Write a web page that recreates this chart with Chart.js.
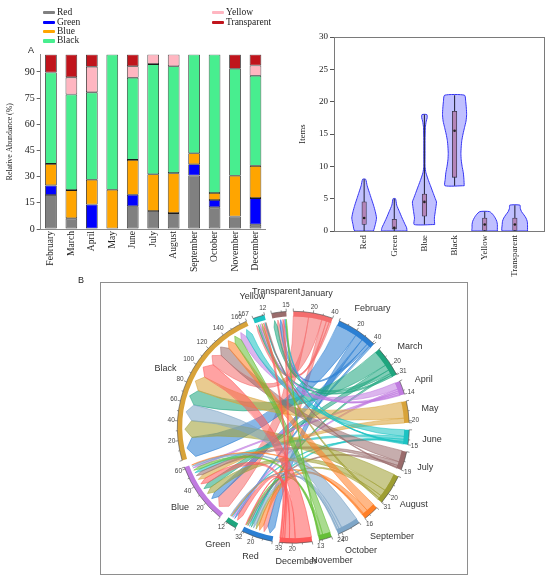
<!DOCTYPE html>
<html>
<head>
<meta charset="utf-8">
<title>Colours of items by month</title>
<script src="https://cdn.jsdelivr.net/npm/chart.js"></script>
<style>
html,body{margin:0;padding:0;background:#fff;}
body{width:550px;height:580px;position:relative;overflow:hidden;font-family:"Liberation Serif","Times New Roman",serif;color:#222;}
canvas{position:absolute;}
#bars{left:0;top:0;width:280px;height:280px;}
#violins{left:280px;top:0;width:270px;height:280px;}
#boxB{position:absolute;left:100px;top:282px;width:366px;height:291px;border:1px solid #8e8e8e;}
#chord{left:0;top:0;width:366px;height:291px;}
.lg{position:absolute;height:10px;line-height:10px;font-size:9.5px;white-space:nowrap;}
.lg i{display:inline-block;width:12px;height:3.5px;border-radius:1px;margin-right:2px;vertical-align:middle;}
.panel{position:absolute;font-family:"Liberation Sans",Arial,sans-serif;font-size:9px;line-height:10px;}
</style>
</head>
<body>
<canvas id="bars" width="280" height="280"></canvas>
<canvas id="violins" width="270" height="280"></canvas>
<div class="panel" style="left:28px;top:45px;">A</div>
<div class="panel" style="left:78px;top:275px;">B</div>
<div id="boxB"><canvas id="chord" width="366" height="291"></canvas></div>
<script>
// ---------- Panel A : relative abundance per month (%) ----------
const months = ['February', 'March', 'April', 'May', 'June', 'July', 'August', 'September', 'October', 'November', 'December'];
const redPct         = [19.5, 6.1, 0,    0,    13.0, 10.3, 9.1,  30.7, 12.4, 7.2,  2.5];
const greenPct       = [5.5,  0,   14.0, 0,    6.6,  0,    0,    6.4,  4.2,  0,    15.2];
const bluePct        = [12.3, 16.2, 14.2, 22.5, 20.0, 21.1, 22.9, 6.3, 4.0,  23.3, 18.5];
const blackPct       = [52.4, 54.8, 50.1, 77.5, 47.1, 63.1, 61.3, 56.6, 79.4, 61.3, 51.6];
const yellowPct      = [0,    9.8, 14.7, 0,    6.6,  5.5,  6.7,  0,    0,    0,    5.9];
const transparentPct = [10.3, 13.1, 7.0, 0,    6.7,  0,    0,    0,    0,    8.2,  6.3];
const pctTicks = [0, 15, 30, 45, 60, 75, 90];

// ---------- violin plot : items per month for each colour ----------
const colourNames = ['Red', 'Green', 'Blue', 'Black', 'Yellow', 'Transparent'];
const itemTicks = [0, 5, 10, 15, 20, 25, 30];
// outline of each violin: item levels and half width of the density there
const violinLevels = [
  [0, 1, 2, 3, 4, 5, 6, 7, 8],
  [0, 0.5, 1, 2, 3, 4, 5],
  [1, 2, 3, 4, 4.5, 5, 6, 7, 8, 9, 10, 12, 14, 16, 17, 17.5, 18],
  [7, 8, 9, 10, 11, 12, 13, 14, 15, 16, 17, 18, 19, 20, 21],
  [0, 0.5, 1, 1.5, 2, 2.5, 3],
  [0, 1, 1.5, 2, 2.5, 3, 3.5, 4]
];
const violinWidths = [
  [0.31, 0.37, 0.41, 0.37, 0.31, 0.24, 0.17, 0.10, 0.05],
  [0.42, 0.41, 0.36, 0.26, 0.17, 0.08, 0.04],
  [0.34, 0.33, 0.36, 0.39, 0.40, 0.36, 0.28, 0.20, 0.12, 0.05, 0.02, 0.02, 0.02, 0.03, 0.06, 0.09, 0.08],
  [0.32, 0.31, 0.29, 0.25, 0.22, 0.21, 0.22, 0.24, 0.28, 0.33, 0.38, 0.40, 0.39, 0.37, 0.33],
  [0.42, 0.42, 0.42, 0.40, 0.35, 0.28, 0.16],
  [0.42, 0.42, 0.41, 0.37, 0.30, 0.22, 0.18, 0.17]
];
const whiskerLow  = [0, 0, 1, 7, 0, 0];
const whiskerHigh = [8, 5, 18, 21, 3, 4];
const boxLow      = [1, 0.3, 2.3, 8.3, 0, 0];
const boxHigh     = [4.5, 1.8, 5.7, 18.5, 2, 2];
const medians     = [2, 0.5, 4.5, 15.5, 1, 1];

// ---------- Panel B : chord diagram, items per month (rows) x colour ----------
const chordMonths = ['January', 'February', 'March', 'April', 'May', 'June', 'July', 'August', 'September', 'October', 'November', 'December'];
const redItems         = [5, 8, 2, 0, 0, 2, 2, 3, 5, 3, 1, 1];
const greenItems       = [0, 2, 0, 2, 0, 1, 0, 0, 1, 1, 0, 5];
const blueItems        = [16, 7, 6, 2, 5, 3, 4, 7, 1, 2, 3, 6];
const blackItems       = [14, 22, 17, 7, 17, 7, 12, 19, 9, 18, 8, 17];
const yellowItems      = [2, 0, 2, 2, 0, 1, 1, 2, 0, 0, 0, 2];
const transparentItems = [3, 3, 4, 1, 0, 1, 0, 0, 0, 0, 1, 2];

// ---------- styles ----------
const barColours = ['#808080', '#0000ff', '#ffa500', '#48ee8f', '#ffb6c1', '#c0141c'];
const monthColours = ['#f46d6d', '#2b7fd3', '#1fa57e', '#c07be0', '#d8a339', '#1cc3c3', '#9a6c6c', '#9e9e32', '#ff7f27', '#7ea6c8', '#66bf38', '#ff5959'];
const colourGroupColours = ['#2b7fd3', '#1fa57e', '#c07be0', '#d8a339', '#1cc3c3', '#9a6c6c'];
const SERIF = '"Liberation Serif", "Times New Roman", serif';
const SANS = '"Liberation Sans", Arial, sans-serif';
const serif = size => ({ family: SERIF, size: size });

function rgba(hex, a) {
  const n = parseInt(hex.slice(1), 16);
  return 'rgba(' + (n >> 16) + ',' + ((n >> 8) & 255) + ',' + (n & 255) + ',' + a + ')';
}

// legend of panel A (two columns like the original)
const legendPlaces = [[43, 6.7], [43, 16.7], [43, 25.7], [43, 35], [212, 6.7], [212, 16.7]];
colourNames.forEach((name, i) => {
  const d = document.createElement('div');
  d.className = 'lg';
  d.style.left = legendPlaces[i][0] + 'px';
  d.style.top = legendPlaces[i][1] + 'px';
  d.innerHTML = '<i style="background:' + barColours[i] + '"></i>' + name;
  document.body.appendChild(d);
});

// ---------- stacked bars ----------
new Chart(document.getElementById('bars'), {
  type: 'bar',
  data: {
    labels: months,
    datasets: [redPct, greenPct, bluePct, blackPct, yellowPct, transparentPct].map((d, i) => ({
      label: colourNames[i],
      data: d,
      backgroundColor: barColours[i],
      borderColor: '#1b1b1b',
      borderWidth: 0.8,
      borderSkipped: false,
      barPercentage: 0.57,
      categoryPercentage: 1
    }))
  },
  options: {
    responsive: false, animation: false, events: [],
    layout: { padding: { top: 54.5, right: 14.3 } },
    plugins: { legend: { display: false }, tooltip: { enabled: false } },
    scales: {
      x: {
        stacked: true,
        grid: { display: false, drawTicks: false },
        border: { color: '#8a8a8a' },
        ticks: { autoSkip: false, minRotation: 90, maxRotation: 90, color: '#222', font: serif(9.6), padding: 2 },
        afterFit: s => { s.height = 51; }
      },
      y: {
        stacked: true, min: 0, max: 100,
        afterBuildTicks: s => { s.ticks = pctTicks.map(v => ({ value: v })); },
        grid: { drawOnChartArea: false, tickLength: 4, color: '#666' },
        border: { color: '#8a8a8a' },
        ticks: { color: '#222', font: serif(10), padding: 2 },
        title: { display: true, text: 'Relative Abundance (%)', color: '#222', font: serif(7.8), padding: { top: 5, bottom: 0 } },
        afterFit: s => { s.width = 40.7; }
      }
    }
  }
});

// ---------- violins ----------
const framePlugin = {
  id: 'frame',
  afterDatasetsDraw(chart) {
    const a = chart.chartArea, ctx = chart.ctx;
    ctx.save();
    ctx.strokeStyle = '#7a7a7a';
    ctx.lineWidth = 1;
    ctx.strokeRect(a.left + 0.5, a.top + 0.5, a.right - a.left - 1, a.bottom - a.top);
    ctx.restore();
  }
};

const violinSets = colourNames.map((name, i) => {
  const lv = violinLevels[i], w = violinWidths[i], x0 = i + 1;
  const right = lv.map((y, k) => ({ x: x0 + w[k], y: y }));
  const left = lv.map((y, k) => ({ x: x0 - w[k], y: y })).reverse();
  return {
    type: 'scatter', label: name, showLine: true,
    data: right.concat(left, [right[0]]),
    fill: 'shape',
    backgroundColor: 'rgba(115,115,255,0.45)',
    borderColor: '#3434f2', borderWidth: 1,
    pointRadius: 0, tension: 0.2, order: 4
  };
});

new Chart(document.getElementById('violins'), {
  type: 'scatter',
  data: {
    datasets: violinSets.concat([
      {
        type: 'scatter', label: 'range', showLine: true, spanGaps: false,
        data: colourNames.flatMap((n, i) => [{ x: i + 1, y: whiskerLow[i] }, { x: i + 1, y: whiskerHigh[i] }, { x: i + 1, y: null }]),
        borderColor: '#2c2c46', borderWidth: 1.1, pointRadius: 0, tension: 0, order: 3
      },
      {
        type: 'bar', label: 'box',
        data: colourNames.map((n, i) => ({ x: i + 1, y: [boxLow[i], boxHigh[i]] })),
        backgroundColor: '#b384b8', borderColor: '#34344a', borderWidth: 0.8, borderSkipped: false,
        barThickness: 4.5, order: 2
      },
      {
        type: 'scatter', label: 'median',
        data: colourNames.map((n, i) => ({ x: i + 1, y: medians[i] })),
        pointRadius: 1.3, backgroundColor: '#222', borderWidth: 0, order: 1
      }
    ])
  },
  options: {
    responsive: false, animation: false, events: [],
    layout: { padding: { top: 37, right: 5 } },
    plugins: { legend: { display: false }, tooltip: { enabled: false } },
    scales: {
      x: {
        type: 'linear', min: 0, max: 7, offset: false,
        afterBuildTicks: s => { s.ticks = colourNames.map((n, i) => ({ value: i + 1 })); },
        grid: { display: false, drawTicks: false, offset: false },
        border: { display: false },
        ticks: { callback: v => colourNames[v - 1], autoSkip: false, minRotation: 90, maxRotation: 90, color: '#222', font: serif(8.8), padding: 4 },
        afterFit: s => { s.height = 49; }
      },
      y: {
        type: 'linear', min: 0, max: 30,
        afterBuildTicks: s => { s.ticks = itemTicks.map(v => ({ value: v })); },
        grid: { drawOnChartArea: false, tickLength: 4, color: '#555' },
        border: { display: false },
        ticks: { color: '#222', font: serif(9), padding: 2 },
        title: { display: true, text: 'Items', color: '#222', font: serif(8.7), padding: { top: 17, bottom: 0 } },
        afterFit: s => { s.width = 54; }
      }
    }
  },
  plugins: [framePlugin]
});

// ---------- chord diagram ----------
const colourItems = [redItems, greenItems, blueItems, blackItems, yellowItems, transparentItems];
const chordGroups = chordMonths.concat(colourNames);
const groupColours = monthColours.concat(colourGroupColours);
const monthTotals = chordMonths.map((m, i) => colourItems.reduce((s, col) => s + col[i], 0));
const colourTotals = colourItems.map(col => col.reduce((s, v) => s + v, 0));
const groupTotals = monthTotals.concat(colourTotals);
const GAP = 7; // empty space between sectors, in items

const ringData = [], ringColours = [], ringLabels = [];
groupTotals.forEach((t, g) => {
  ringData.push(t, GAP);
  ringColours.push(groupColours[g], 'rgba(0,0,0,0)');
  ringLabels.push(chordGroups[g], '');
});

// angular slot of every link on both of its sectors (largest link first, clockwise)
function linkSlots(chart) {
  const meta = chart.getDatasetMeta(0);
  const nM = chordMonths.length;
  const slots = {};
  chordGroups.forEach((name, g) => {
    const arc = meta.data[g * 2];
    const isMonth = g < nM;
    const items = [];
    if (isMonth) colourItems.forEach((col, c) => { if (col[g] > 0) items.push({ m: g, c: c, v: col[g] }); });
    else colourItems[g - nM].forEach((v, m) => { if (v > 0) items.push({ m: m, c: g - nM, v: v }); });
    items.sort((p, q) => q.v - p.v);
    const unit = (arc.endAngle - arc.startAngle) / groupTotals[g];
    let a = arc.startAngle;
    items.forEach(it => {
      const key = it.m + '_' + it.c;
      const s = slots[key] || (slots[key] = { m: it.m, c: it.c, v: it.v });
      if (isMonth) { s.a1 = a; s.a2 = a + it.v * unit; } else { s.b1 = a; s.b2 = a + it.v * unit; }
      a += it.v * unit;
    });
  });
  return slots;
}

function placeText(ctx, text, cx, cy, ang, r, h) {
  const w = ctx.measureText(text).width;
  const c = Math.cos(ang), s = Math.sin(ang);
  const d = r + Math.abs(c) * w / 2 + Math.abs(s) * h / 2;
  ctx.fillText(text, cx + d * c, cy + d * s);
}

const chordPlugin = {
  id: 'chord',
  beforeDatasetsDraw(chart) {
    const ctx = chart.ctx;
    const arc0 = chart.getDatasetMeta(0).data[0];
    const cx = arc0.x, cy = arc0.y;
    const rM = arc0.innerRadius + 0.5;     // month end of a ribbon
    const rC = arc0.innerRadius - 9;       // colour end (arrow base)
    const rT = arc0.innerRadius - 2.5;     // arrow tip
    const P = (r, a) => [cx + r * Math.cos(a), cy + r * Math.sin(a)];
    const slots = linkSlots(chart);
    ctx.save();
    Object.values(slots).sort((p, q) => p.m - q.m || p.c - q.c).forEach(s => {
      const col = monthColours[s.m];
      const bm = (s.b1 + s.b2) / 2;
      ctx.beginPath();
      ctx.arc(cx, cy, rM, s.a1, s.a2);
      let p = P(rC, s.b1);
      ctx.quadraticCurveTo(cx, cy, p[0], p[1]);
      p = P(rT, bm); ctx.lineTo(p[0], p[1]);
      p = P(rC, s.b2); ctx.lineTo(p[0], p[1]);
      p = P(rM, s.a1);
      ctx.quadraticCurveTo(cx, cy, p[0], p[1]);
      ctx.closePath();
      ctx.fillStyle = rgba(col, 0.56);
      ctx.fill();
      ctx.strokeStyle = rgba(col, 0.9);
      ctx.lineWidth = 0.6;
      ctx.stroke();
    });
    ctx.restore();
  },
  afterDatasetsDraw(chart) {
    const ctx = chart.ctx;
    const meta = chart.getDatasetMeta(0);
    ctx.save();
    chordGroups.forEach((name, g) => {
      const arc = meta.data[g * 2];
      const cx = arc.x, cy = arc.y, R = arc.outerRadius;
      const T = groupTotals[g];
      const unit = (arc.endAngle - arc.startAngle) / T;
      // axis line and ticks
      ctx.strokeStyle = '#4a4a4a';
      ctx.lineWidth = 0.6;
      ctx.beginPath();
      ctx.arc(cx, cy, R, arc.startAngle, arc.endAngle);
      ctx.stroke();
      const marks = [];
      for (let v = 0; v <= T; v += 10) marks.push(v);
      if (T % 10) marks.push(T);
      marks.forEach(v => {
        const a = arc.startAngle + v * unit;
        const len = (v % 20 === 0 || v === T) ? 2.8 : 1.5;
        ctx.beginPath();
        ctx.moveTo(cx + R * Math.cos(a), cy + R * Math.sin(a));
        ctx.lineTo(cx + (R + len) * Math.cos(a), cy + (R + len) * Math.sin(a));
        ctx.stroke();
      });
      // tick numbers
      ctx.fillStyle = '#444';
      ctx.font = '6.5px ' + SANS;
      ctx.textAlign = 'center';
      ctx.textBaseline = 'middle';
      const nums = [];
      for (let v = 20; v <= T; v += 20) nums.push(v);
      const last = nums.length ? nums[nums.length - 1] : 0;
      if (T !== last && T - last >= 4) nums.push(T);
      nums.forEach(v => placeText(ctx, String(v), cx, cy, arc.startAngle + v * unit, R + 2.5, 6.5));
      // sector name
      ctx.fillStyle = '#333';
      ctx.font = '9px ' + SANS;
      placeText(ctx, name, cx, cy, (arc.startAngle + arc.endAngle) / 2, R + 13, 9);
    });
    ctx.restore();
  }
};

new Chart(document.getElementById('chord'), {
  type: 'doughnut',
  data: {
    labels: ringLabels,
    datasets: [{ data: ringData, backgroundColor: ringColours, borderWidth: 0 }]
  },
  options: {
    responsive: false, animation: false, events: [],
    rotation: 0, cutout: '95.6%',
    layout: { padding: { left: 76.3, right: 57.7, top: 28.3, bottom: 30.7 } },
    plugins: { legend: { display: false }, tooltip: { enabled: false } }
  },
  plugins: [chordPlugin]
});
</script>
</body>
</html>
